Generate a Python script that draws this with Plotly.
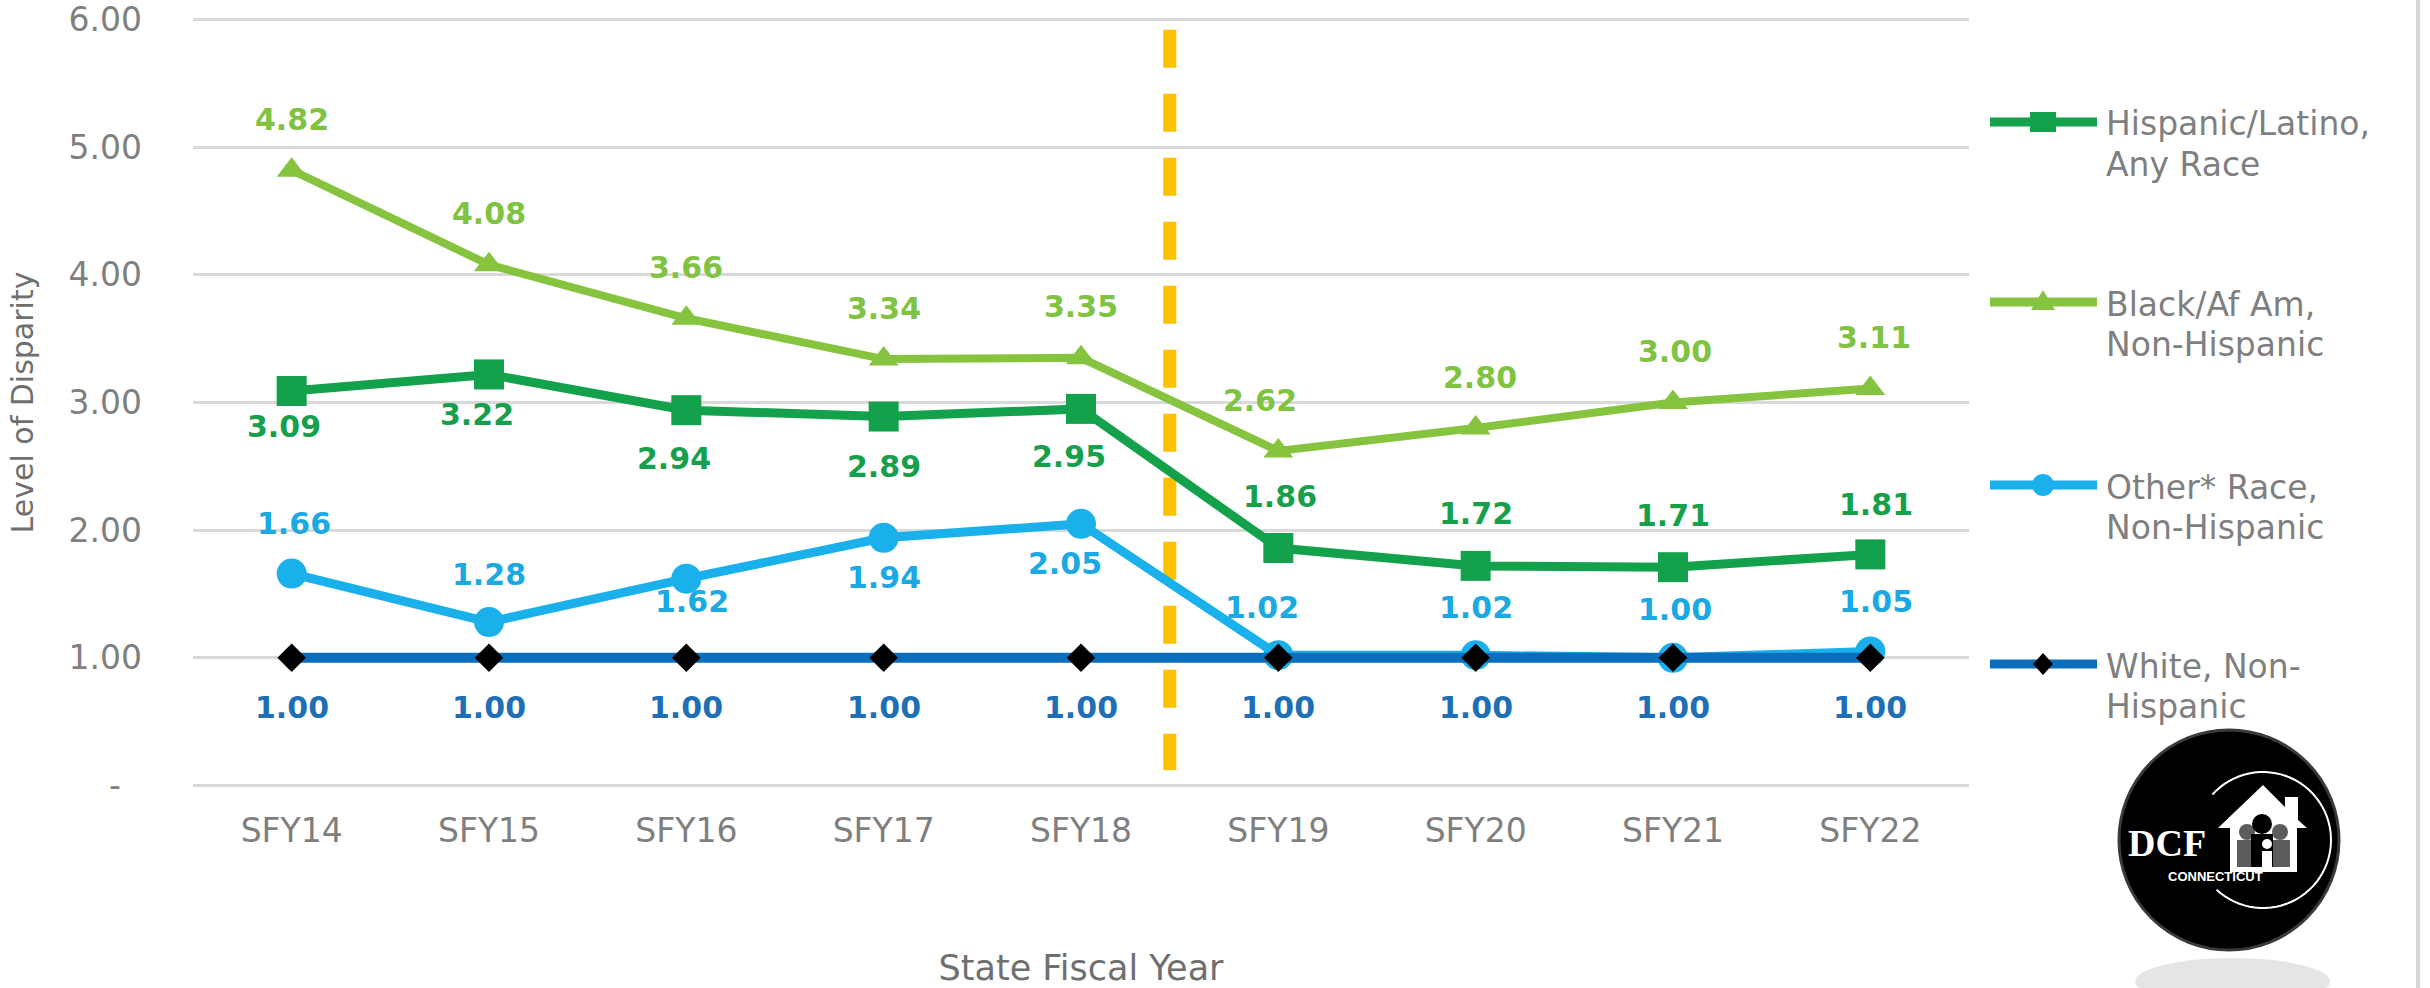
import math

import plotly.graph_objects as go

# ---- data -------------------------------------------------------------
CATEGORIES = ["SFY14", "SFY15", "SFY16", "SFY17", "SFY18",
              "SFY19", "SFY20", "SFY21", "SFY22"]
HISPANIC = [3.09, 3.22, 2.94, 2.89, 2.95, 1.86, 1.72, 1.71, 1.81]
BLACK = [4.82, 4.08, 3.66, 3.34, 3.35, 2.62, 2.80, 3.00, 3.11]
OTHER = [1.66, 1.28, 1.62, 1.94, 2.05, 1.02, 1.02, 1.00, 1.05]
WHITE = [1.00, 1.00, 1.00, 1.00, 1.00, 1.00, 1.00, 1.00, 1.00]
SERIES_LABELS = [
    ["Hispanic/Latino,", "Any Race"],
    ["Black/Af Am,", "Non-Hispanic"],
    ["Other* Race,", "Non-Hispanic"],
    ["White, Non-", "Hispanic"],
]
Y_TICKS = [0, 1, 2, 3, 4, 5, 6]
Y_TICK_LABELS = ["-\u00a0\u00a0", "1.00", "2.00", "3.00", "4.00", "5.00", "6.00"]
X_TITLE = "State Fiscal Year"
Y_TITLE = "Level of Disparity"

# ---- style ------------------------------------------------------------
FONT = "DejaVu Sans"
GRAY = "#7f7f7f"
STYLES = [
    dict(color="#13a14b", text="#17a04b", symbol="square", size=30, width=9,
         dy=[-35, -40, -48, -50, -48, 52, 52, 52, 50],
         dx=[-8, -12, -12, 0, -12, 2, 0, 0, 6]),
    dict(color="#86c440", text="#80c342", symbol="triangle-up", size=26, width=8,
         dy=[51, 51, 51, 51, 51, 51, 51, 51, 51],
         dx=[0, 0, 0, 0, 0, -18, 4, 2, 4]),
    dict(color="#1ab0ec", text="#1ba9e3", symbol="circle", size=30, width=9,
         dy=[50, 48, -23, -40, -40, 48, 48, 48, 50],
         dx=[2, 0, 6, 0, -16, -16, 0, 2, 6]),
    dict(color="#0a6ebd", text="#1e6fb5", symbol="diamond", size=22, width=10,
         marker="#000000",
         dy=[-50, -50, -50, -50, -50, -50, -50, -50, -50],
         dx=[0, 0, 0, 0, 0, 0, 0, 0, 0]),
]
CHANGE_X = 4.45

W, H = 2430, 988
PL, PR, PT, PB = 193, 1969, 17, 788


def px(x):
    return (x - PL) / (PR - PL)


def py(y):
    return (PB - y) / (PB - PT)


def paper_path(points, close=True):
    d = "M " + " L ".join(f"{px(x):.5f},{py(y):.5f}" for x, y in points)
    return d + (" Z" if close else "")


fig = go.Figure()
annotations = []
shapes = []

for values, labels, st in zip([HISPANIC, BLACK, OTHER, WHITE], SERIES_LABELS, STYLES):
    fig.add_trace(go.Scatter(
        x=CATEGORIES,
        y=values,
        name=" ".join(labels),
        mode="lines+markers",
        line=dict(color=st["color"], width=st["width"]),
        marker=dict(symbol=st["symbol"], size=st["size"],
                    color=st.get("marker", st["color"]), line=dict(width=0)),
        showlegend=False,
    ))
    for cat, v, dy, dx in zip(CATEGORIES, values, st["dy"], st["dx"]):
        annotations.append(dict(
            x=cat, y=v, xref="x", yref="y", text=f"{v:.2f}", showarrow=False,
            yshift=dy, xshift=dx,
            font=dict(family=FONT, size=30, color=st["text"], weight="bold"),
        ))

# dashed change line between SFY18 and SFY19
shapes.append(dict(type="line", xref="x", yref="y", x0=CHANGE_X, x1=CHANGE_X,
                   y0=5.92, y1=0.12, layer="below",
                   line=dict(color="#ffc000", width=13, dash="38px,26px")))

# ---- custom legend ----------------------------------------------------
LEG_Y = [122, 302, 485, 664]
for (labels, st, ly) in zip(SERIES_LABELS, STYLES, LEG_Y):
    shapes.append(dict(type="line", xref="paper", yref="paper",
                       x0=px(1990), x1=px(2097), y0=py(ly), y1=py(ly),
                       line=dict(color=st["color"], width=9)))
    cx = 2043
    mcol = st.get("marker", st["color"])
    if st["symbol"] == "square":
        shapes.append(dict(type="rect", xref="paper", yref="paper",
                           x0=px(cx - 13), x1=px(cx + 13), y0=py(ly + 10), y1=py(ly - 10),
                           fillcolor=mcol, line=dict(width=0)))
    elif st["symbol"] == "circle":
        shapes.append(dict(type="circle", xref="paper", yref="paper",
                           x0=px(cx - 11), x1=px(cx + 11), y0=py(ly + 11), y1=py(ly - 11),
                           fillcolor=mcol, line=dict(width=0)))
    elif st["symbol"] == "triangle-up":
        shapes.append(dict(type="path", xref="paper", yref="paper",
                           path=paper_path([(cx - 12, ly + 8), (cx + 12, ly + 8), (cx, ly - 12)]),
                           fillcolor=mcol, line=dict(width=0)))
    else:
        shapes.append(dict(type="path", xref="paper", yref="paper",
                           path=paper_path([(cx - 10, ly), (cx, ly - 11), (cx + 10, ly), (cx, ly + 11)]),
                           fillcolor=mcol, line=dict(width=0)))
    for k, line in enumerate(labels):
        annotations.append(dict(
            x=px(2104), y=py(ly + 2 + 40 * k), xref="paper", yref="paper",
            xanchor="left", yanchor="middle", text=line, showarrow=False,
            font=dict(family=FONT, size=33, color=GRAY),
        ))

# ---- DCF logo ---------------------------------------------------------
shapes.append(dict(type="circle", xref="paper", yref="paper",
                   x0=px(2135), x1=px(2330), y0=py(1005), y1=py(958),
                   fillcolor="rgba(0,0,0,0.10)", line=dict(width=0)))
shapes.append(dict(type="circle", xref="paper", yref="paper",
                   x0=px(2119), x1=px(2339), y0=py(950), y1=py(730),
                   fillcolor="#000000", line=dict(color="#3a3a3a", width=3)))
ring_c, ring_r = (2263, 840), 68
arc = []
for k in range(61):
    a = math.radians(138 - k * (138 + 133) / 60)
    arc.append((ring_c[0] + ring_r * math.cos(a), ring_c[1] - ring_r * math.sin(a)))
shapes.append(dict(type="path", xref="paper", yref="paper",
                   path=paper_path(arc, close=False),
                   line=dict(color="#ffffff", width=2)))
house = [(2218, 828), (2263, 785), (2285, 807), (2285, 797), (2298, 797),
         (2298, 820), (2307, 828), (2297, 828), (2297, 872), (2230, 872), (2230, 828)]
shapes.append(dict(type="path", xref="paper", yref="paper", path=paper_path(house),
                   fillcolor="#ffffff", line=dict(width=0)))
people = [
    (2247, 832, 8, 2237, 2257, 840, "#5c5c5c"),
    (2280, 832, 8, 2270, 2290, 840, "#5c5c5c"),
    (2262, 824, 10, 2251, 2273, 834, "#000000"),
    (2267, 844, 5, 2262, 2272, 851, "#ffffff"),
]
for hx, hy, hr, bx0, bx1, by0, col in people:
    shapes.append(dict(type="circle", xref="paper", yref="paper",
                       x0=px(hx - hr), x1=px(hx + hr), y0=py(hy + hr), y1=py(hy - hr),
                       fillcolor=col, line=dict(width=0)))
    shapes.append(dict(type="rect", xref="paper", yref="paper",
                       x0=px(bx0), x1=px(bx1), y0=py(867), y1=py(by0),
                       fillcolor=col, line=dict(width=0)))
annotations.append(dict(x=px(2167), y=py(843), xref="paper", yref="paper", text="DCF",
                        showarrow=False, xanchor="center", yanchor="middle",
                        font=dict(family="Liberation Serif", size=38, color="#ffffff",
                                  weight="bold")))
annotations.append(dict(x=px(2265), y=py(886), xref="paper", yref="paper",
                        text="CONNECTICUT", showarrow=False,
                        font=dict(family="Liberation Sans", size=13, color="#ffffff",
                                  weight="bold")))
# page border on the right
shapes.append(dict(type="line", xref="paper", yref="paper",
                   x0=px(2418), x1=px(2418), y0=py(0), y1=py(1000),
                   line=dict(color="#d6d6d6", width=4)))

fig.update_xaxes(
    type="category", range=[-0.5, 8.5], showgrid=False, zeroline=False,
    showline=False, ticks="", automargin=False, ticklabelstandoff=20,
    tickfont=dict(family=FONT, size=33, color=GRAY),
    title=dict(text=X_TITLE, standoff=111,
               font=dict(family=FONT, size=35, color="#6f6f6f")),
)
fig.update_yaxes(
    range=[-0.02, 6.02], tickvals=Y_TICKS, ticktext=Y_TICK_LABELS,
    showgrid=True, gridcolor="#d9d9d9", gridwidth=3, zeroline=False,
    showline=False, ticks="", automargin=False, ticklabelstandoff=50,
    ticklabeloverflow="allow",
    tickfont=dict(family=FONT, size=33, color=GRAY),
    title=dict(text=Y_TITLE, standoff=26,
               font=dict(family=FONT, size=30, color="#6f6f6f")),
)
fig.update_layout(
    width=W, height=H,
    margin=dict(l=PL, r=W - PR, t=PT, b=H - PB, autoexpand=False),
    paper_bgcolor="#ffffff", plot_bgcolor="#ffffff",
    showlegend=False,
    shapes=shapes,
    annotations=annotations,
)
# drop the default page margin so the figure sits at the top-left corner
fig.write_html("out.html", config={"displayModeBar": False},
               post_script="document.body.style.margin = '0';")
